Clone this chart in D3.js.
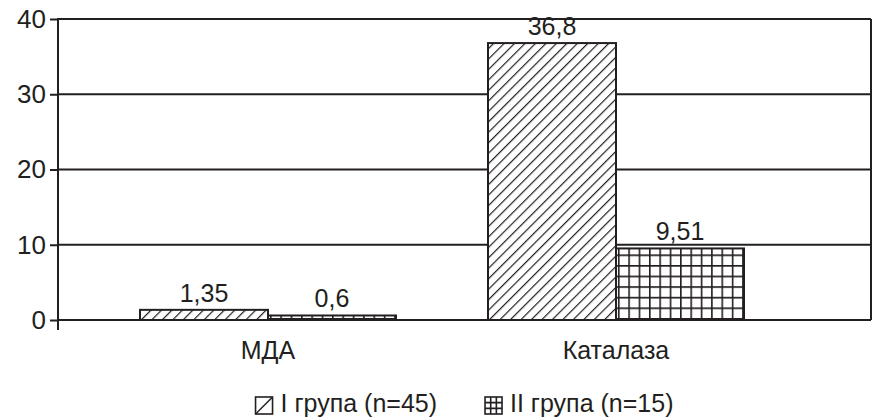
<!DOCTYPE html>
<html>
<head>
<meta charset="utf-8">
<script src="https://cdn.jsdelivr.net/npm/d3@7/dist/d3.min.js"></script>
<style>
  html, body { margin: 0; padding: 0; background: #fff; }
  svg { display: block; }
  text { font-family: "Liberation Sans", Arial, sans-serif; fill: #231f20; }
</style>
</head>
<body>
<svg id="chart" width="874" height="419"></svg>
<script>
// Indicators and the two patient groups
const categories = ["МДА", "Каталаза"];
const seriesNames = ["I група (n=45)", "II група (n=15)"];
const group1Values = [1.35, 36.8];
const group2Values = [0.6, 9.51];
const valueLabels1 = ["1,35", "36,8"];
const valueLabels2 = ["0,6", "9,51"];
const yTicks = [0, 10, 20, 30, 40];

const ink = "#231f20";
const fontSize = 25;

const svg = d3.select("#chart");
const plot = { left: 58, right: 871, top: 19, bottom: 320 };

const series = [
  { name: seriesNames[0], values: group1Values, labels: valueLabels1, fill: "url(#hatch)", key: "hatch" },
  { name: seriesNames[1], values: group2Values, labels: valueLabels2, fill: "url(#grid)", key: "grid" }
];

// Fill patterns: diagonal hatching and a square mesh
const defs = svg.append("defs");
const hatch = defs.append("pattern")
  .attr("id", "hatch").attr("patternUnits", "userSpaceOnUse")
  .attr("width", 7.4).attr("height", 7.4)
  .attr("patternTransform", "rotate(45)");
hatch.append("rect").attr("width", 7.4).attr("height", 7.4).attr("fill", "#fff");
hatch.append("line").attr("x1", 0).attr("y1", 0).attr("x2", 0).attr("y2", 7.4)
  .attr("stroke", ink).attr("stroke-width", 2.4);

const grid = defs.append("pattern")
  .attr("id", "grid").attr("patternUnits", "userSpaceOnUse")
  .attr("width", 10.35).attr("height", 10.6);
grid.append("rect").attr("width", 10.35).attr("height", 10.6).attr("fill", "#fff");
grid.append("path").attr("d", "M0,0H10.35M0,0V10.6")
  .attr("stroke", ink).attr("stroke-width", 3.2).attr("fill", "none");

// Scales
const y = d3.scaleLinear().domain([0, 40]).range([plot.bottom, plot.top]);
const x0 = d3.scaleBand().domain(categories).range([94, 790]).padding(0);
const x1 = d3.scaleBand().domain(seriesNames).range([46, 302]).padding(0);

// Horizontal gridlines across the plot
svg.append("g")
  .selectAll("line").data(yTicks).join("line")
  .attr("x1", plot.left).attr("x2", plot.right)
  .attr("y1", d => y(d)).attr("y2", d => y(d))
  .attr("stroke", ink).attr("stroke-width", 2);

// Right border of the plot area
svg.append("line")
  .attr("x1", plot.right).attr("x2", plot.right)
  .attr("y1", plot.top).attr("y2", plot.bottom)
  .attr("stroke", ink).attr("stroke-width", 2);

// Y axis
const yAxis = svg.append("g")
  .attr("transform", `translate(${plot.left},0)`)
  .call(d3.axisLeft(y).tickValues(yTicks).tickSize(8).tickPadding(4).tickFormat(d3.format("d")));
yAxis.select(".domain").remove();
yAxis.selectAll(".tick line").attr("stroke", ink).attr("stroke-width", 2);
yAxis.selectAll(".tick text")
  .attr("font-size", 26).attr("fill", ink)
  .style("font-family", '"Liberation Sans", Arial, sans-serif');
svg.append("line")
  .attr("x1", plot.left).attr("x2", plot.left)
  .attr("y1", plot.top - 1).attr("y2", plot.bottom + 10)
  .attr("stroke", ink).attr("stroke-width", 2);

// Bars
const groups = svg.append("g").selectAll("g").data(categories).join("g")
  .attr("transform", d => `translate(${x0(d)},0)`);

const barData = (c, i) => series.map(s => ({ s, v: s.values[i], label: s.labels[i] }));

groups.selectAll("rect")
  .data(barData)
  .join("rect")
  .attr("x", d => x1(d.s.name))
  .attr("width", x1.bandwidth())
  .attr("y", d => y(d.v))
  .attr("height", d => y(0) - y(d.v))
  .attr("fill", d => d.s.fill)
  .attr("stroke", ink).attr("stroke-width", 2);

// Value labels above the bars
groups.selectAll("text.value")
  .data(barData)
  .join("text").attr("class", "value")
  .attr("x", d => x1(d.s.name) + x1.bandwidth() / 2)
  .attr("y", d => y(d.v) - 8)
  .attr("text-anchor", "middle")
  .attr("font-size", fontSize)
  .text(d => d.label);

// Category labels
svg.append("g").selectAll("text").data(categories).join("text")
  .attr("x", d => x0(d) + x0.bandwidth() / 2)
  .attr("y", 359)
  .attr("text-anchor", "middle")
  .attr("font-size", fontSize)
  .text(d => d);

// Legend, centred under the plot
const legend = svg.append("g");
const items = legend.selectAll("g").data(series).join("g");
const sw = 17, swY = 397;
items.append("rect")
  .attr("width", sw).attr("height", sw).attr("y", swY)
  .attr("fill", "#fff").attr("stroke", ink).attr("stroke-width", 1.6);
// key marks inside the swatches
items.filter(d => d.key === "hatch").append("line")
  .attr("x1", 0).attr("y1", swY + sw).attr("x2", sw).attr("y2", swY)
  .attr("stroke", ink).attr("stroke-width", 1.4);
items.filter(d => d.key === "grid").append("path")
  .attr("d", `M${sw / 3},${swY}V${swY + sw}M${2 * sw / 3},${swY}V${swY + sw}` +
             `M0,${swY + sw / 3}H${sw}M0,${swY + 2 * sw / 3}H${sw}`)
  .attr("stroke", ink).attr("stroke-width", 1.6).attr("fill", "none");
items.append("text")
  .attr("x", 25).attr("y", 412)
  .attr("font-size", fontSize)
  .text(d => d.name);

let cursor = 0;
const offsets = [];
items.each(function (d, i) {
  offsets.push(cursor);
  const w = 25 + d3.select(this).select("text").node().getComputedTextLength();
  cursor += w + (i < series.length - 1 ? 48 : 0);
});
const legendStart = (plot.left + plot.right) / 2 - cursor / 2;
items.attr("transform", (d, i) => `translate(${legendStart + offsets[i]},0)`);
</script>
</body>
</html>
